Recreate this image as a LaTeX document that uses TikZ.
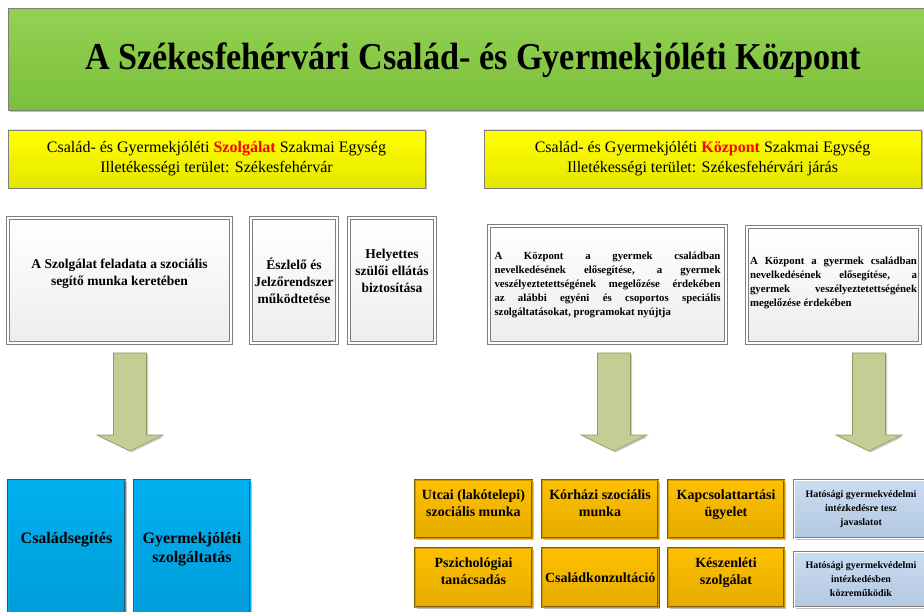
\documentclass[tikz,border=0pt]{standalone}
\usepackage{fontspec}
\setmainfont{Liberation Serif}
\newfontfamily\titlefont{Liberation Serif}[FakeStretch=0.9]
\usetikzlibrary{shadows}

\definecolor{titletop}{HTML}{93D152}
\definecolor{titlebot}{HTML}{7BC03A}
\definecolor{yelltop}{HTML}{FFFF00}
\definecolor{yellbot}{HTML}{E6E600}
\definecolor{boxgray}{HTML}{7F7F7F}
\definecolor{bluetop}{HTML}{00B0F0}
\definecolor{bluebot}{HTML}{0099D4}
\definecolor{bluedraw}{HTML}{1F5F7A}
\definecolor{orangetop}{HTML}{FFC000}
\definecolor{orangebot}{HTML}{E5AC00}
\definecolor{orangedraw}{HTML}{7F6000}
\definecolor{lbluetop}{HTML}{C9DCF2}
\definecolor{lbluebot}{HTML}{B4C8E2}
\definecolor{arrowfill}{HTML}{C3CE94}
\definecolor{arrowdraw}{HTML}{8E9A62}
\definecolor{szred}{HTML}{FF0000}

\tikzset{
  box/.style={anchor=north west, inner sep=3pt, outer sep=0pt, align=center,
    drop shadow={shadow xshift=1.5pt, shadow yshift=-1.5pt, opacity=0.25, fill=black}},
  titlebox/.style={box, draw=boxgray, line width=1pt, top color=titletop, bottom color=titlebot},
  unitbox/.style={box, draw=boxgray, line width=0.8pt, top color=yelltop, bottom color=yellbot,
    font=\fontsize{16}{20}\selectfont},
  taskbox/.style={box, draw=boxgray, double=white, double distance=1.3pt, line width=0.9pt,
    top color=white, bottom color=black!7, font=\bfseries\fontsize{13.5}{17}\selectfont},
  textbox/.style={taskbox, align=justify, font=\bfseries\fontsize{10.8}{14}\selectfont},
  servbox/.style={box, draw=bluedraw, double=bluetop, double distance=1pt, line width=0.7pt,
    top color=bluetop, bottom color=bluebot, font=\bfseries\fontsize{16}{19}\selectfont},
  progbox/.style={box, draw=orangedraw, double=orangetop!80!black, double distance=0.8pt, line width=0.7pt,
    top color=orangetop, bottom color=orangebot, font=\bfseries\fontsize{14}{17}\selectfont},
  authbox/.style={box, draw=boxgray, double=white, double distance=0.9pt, line width=0.8pt,
    top color=lbluetop, bottom color=lbluebot, font=\bfseries\fontsize{10}{14}\selectfont},
  bigarrow/.style={fill=arrowfill, draw=arrowdraw, line width=0.6pt, line join=miter,
    drop shadow={shadow xshift=1.5pt, shadow yshift=-1.5pt, opacity=0.2, fill=black}}
}

% block arrow pointing down, #1 = x of its tip
\newcommand{\bigdownarrow}[1]{%
  \draw[bigarrow] ({#1-16.5},353) -- ({#1+16.5},353) -- ({#1+16.5},435) -- ({#1+33},435)
    -- (#1,451) -- ({#1-33},435) -- ({#1-16.5},435) -- cycle;}

\begin{document}
\begin{tikzpicture}[x=1pt, y=-1pt]
  \useasboundingbox (0,0) rectangle (924,612);
  \clip (0,0) rectangle (924,612);

  % title
  \node[titlebox, minimum width=930pt, minimum height=102pt] (title) at (8,9)
    {\titlefont\bfseries\fontsize{38}{42}\selectfont A Székesfehérvári Család- és Gyermekjóléti Központ};

  % the two units
  \node[unitbox, minimum width=417pt, minimum height=58pt] (unitL) at (8,130)
    {Család- és Gyermekjóléti \textbf{\color{szred}Szolgálat} Szakmai Egység\\
     Illetékességi terület: Székesfehérvár};
  \node[unitbox, minimum width=437pt, minimum height=58pt] (unitR) at (484,130)
    {Család- és Gyermekjóléti \textbf{\color{szred}Központ} Szakmai Egység\\
     Illetékességi terület: Székesfehérvári járás};

  % tasks of the Szolgálat
  \node[taskbox, minimum width=223pt, minimum height=125pt, text depth=17pt] (task1) at (8,218)
    {A Szolgálat feladata a szociális\\ segítő munka keretében};
  \node[taskbox, minimum width=86pt, minimum height=125pt] (task2) at (251,218)
    {Észlelő és\\ Jelzőrendszer\\ működtetése};
  \node[taskbox, minimum width=86pt, minimum height=125pt, text depth=20pt] (task3) at (349,218)
    {Helyettes\\ szülői ellátás\\ biztosítása};

  % tasks of the Központ
  \node[textbox, minimum width=237pt, minimum height=117pt, text width=226pt, text depth=57pt] (ktask1) at (489,226)
    {\hyphenpenalty=10000 A Központ a gyermek családban\linebreak nevelkedésének elősegítése, a gyermek\linebreak
     veszélyeztetettségének megelőzése érdekében\linebreak az alábbi egyéni és csoportos speciális\linebreak
     szolgáltatásokat, programokat nyújtja};
  \node[textbox, minimum width=173pt, minimum height=116pt, text width=167pt, text depth=49pt] (ktask2) at (747,227)
    {\hyphenpenalty=10000 A Központ a gyermek családban\linebreak nevelkedésének elősegítése, a\linebreak
     gyermek veszélyeztetettségének\linebreak megelőzése érdekében};

  % arrows
  \bigdownarrow{130}
  \bigdownarrow{614}
  \bigdownarrow{869}

  % services
  \node[servbox, minimum width=117pt, minimum height=160pt, text depth=44pt] (serv1) at (8,480)
    {Családsegítés};
  \node[servbox, minimum width=116pt, minimum height=160pt, text depth=26pt] (serv2) at (134,480)
    {Gyermekjóléti\\ szolgáltatás};

  % programmes
  \node[progbox, minimum width=117pt, minimum height=58pt, text depth=12pt] (prog1) at (415,480)
    {Utcai (lakótelepi)\\ szociális munka};
  \node[progbox, minimum width=116pt, minimum height=58pt, text depth=12pt] (prog2) at (542,480)
    {Kórházi szociális\\ munka};
  \node[progbox, minimum width=116pt, minimum height=58pt, text depth=12pt] (prog3) at (668,480)
    {Kapcsolattartási\\ ügyelet};
  \node[progbox, minimum width=117pt, minimum height=59pt, text depth=12pt] (prog4) at (415,548)
    {Pszichológiai\\ tanácsadás};
  \node[progbox, minimum width=116pt, minimum height=59pt] (prog5) at (542,548)
    {Családkonzultáció};
  \node[progbox, minimum width=116pt, minimum height=59pt, text depth=12pt] (prog6) at (668,548)
    {Készenléti\\ szolgálat};

  % authority cases
  \node[authbox, minimum width=134pt, minimum height=58pt] (auth1) at (794,480)
    {Hatósági gyermekvédelmi\\ intézkedésre tesz\\ javaslatot};
  \node[authbox, minimum width=134pt, minimum height=55pt] (auth2) at (794,552)
    {Hatósági gyermekvédelmi\\ intézkedésben\\ közreműködik};
\end{tikzpicture}
\end{document}
